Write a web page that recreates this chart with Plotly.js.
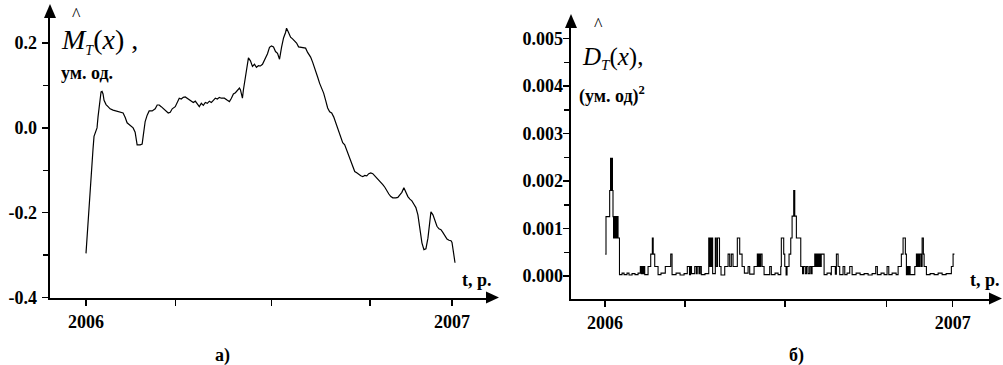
<!DOCTYPE html>
<html>
<head>
<meta charset="utf-8">
<script src="https://cdn.plot.ly/plotly-3.0.1.min.js"></script>
<style>
html,body{margin:0;padding:0;background:#fff;}
#chart{width:1003px;height:365px;}
</style>
</head>
<body>
<div id="chart"></div>
<script>
// ---- Data (days since 2006-01-01) ----
const meanDays = [0,2,4,5.7,7,8,10,11,12,13,14,15,16,17,18,20,22,24,27,30,33,35,37,39,41,43,45,47,49,50,51,54,56,57,59,61,63,66,69,71,73,75,77,79,82,84,86,89,91,93,95,97,99,101,103,105,107,109,111,113,115,117,119,121,123,125,127,129,131,133,135,138,141,143,145,147,149,151,153,154,155,156,157,159,161,162,164,166,168,170,172,174,176,177,179,181,183,185,187,189,191,193,195,197,199,200,202,204,206,208,210,212,214,217,219,221,224,226,229,231,233,235,237,239,241,243,245,247,249,251,253,256,258,261,263,266,268,270,272,274,276,278,280,282,284,286,288,290,292,294,296,298,300,302,304,306,309,311,313,315,317,319,321,323,325,327,329,331,332,334,335,337,339,341,343,344,346,348,350,352,354,356,358,360,362,364,365,366,367,368];
const meanVals = [-0.296,-0.22,-0.14,-0.10,-0.05,-0.02,-0.008,0.0,0.026,0.05,0.075,0.085,0.086,0.08,0.065,0.055,0.05,0.045,0.042,0.04,0.038,0.037,0.035,0.025,0.012,0.008,0.003,0.0,-0.01,-0.03,-0.04,-0.04,-0.038,-0.02,0.015,0.03,0.04,0.04,0.045,0.054,0.054,0.05,0.045,0.04,0.035,0.037,0.045,0.05,0.06,0.07,0.068,0.072,0.073,0.07,0.065,0.062,0.06,0.063,0.055,0.05,0.058,0.053,0.06,0.058,0.063,0.06,0.065,0.07,0.068,0.072,0.07,0.07,0.065,0.062,0.07,0.08,0.083,0.089,0.094,0.09,0.075,0.07,0.09,0.12,0.15,0.165,0.158,0.145,0.15,0.143,0.147,0.146,0.15,0.155,0.165,0.175,0.19,0.193,0.191,0.18,0.176,0.162,0.19,0.212,0.225,0.235,0.225,0.214,0.21,0.205,0.2,0.191,0.19,0.19,0.188,0.178,0.167,0.155,0.136,0.12,0.105,0.095,0.082,0.065,0.047,0.038,0.035,0.026,0.012,0.0,-0.015,-0.035,-0.04,-0.059,-0.072,-0.092,-0.103,-0.106,-0.11,-0.113,-0.115,-0.112,-0.113,-0.108,-0.106,-0.108,-0.113,-0.118,-0.122,-0.128,-0.134,-0.14,-0.15,-0.156,-0.162,-0.165,-0.165,-0.164,-0.158,-0.152,-0.141,-0.152,-0.162,-0.168,-0.172,-0.18,-0.188,-0.205,-0.224,-0.255,-0.271,-0.287,-0.285,-0.26,-0.215,-0.198,-0.205,-0.22,-0.232,-0.238,-0.24,-0.247,-0.255,-0.262,-0.265,-0.266,-0.27,-0.285,-0.3,-0.318];

const dispDays = [0.3,1.05,4.9,5.8,6.3,6.7,7.8,8.4,9.0,9.7,10.3,11.0,12.1,12.8,13.7,15.2,17.9,20.0,23.1,25.2,28.4,31.5,34.7,37.1,38.1,38.9,39.9,40.7,41.7,45.2,48.0,49.7,50.6,52.2,55.7,58.8,63.3,69.0,70.4,74.6,78.8,83.0,86.4,88.7,89.8,90.8,94.2,95.9,96.8,98.7,99.8,101.1,105.0,108.9,109.6,110.5,111.3,112.0,113.0,115.8,116.8,118.1,120.2,121.8,125.7,129.2,130.9,132.6,134.4,138.9,141.4,143.9,146.3,150.2,151.9,156.5,159.9,161.0,161.7,162.8,163.5,164.9,167.0,172.9,174.6,178.5,181.7,184.5,185.1,187.6,188.7,190.1,191.1,193.2,195.0,196.4,198.1,199.2,200.9,205.5,207.4,208.4,210.3,211.6,213.2,214.9,216.3,217.4,220.2,221.0,221.9,222.6,223.7,224.7,225.4,226.3,227.0,230.0,233.1,237.0,237.6,241.8,242.9,244.7,246.4,249.9,251.7,254.1,256.9,259.4,263.6,267.8,272.0,276.2,280.4,284.2,285.9,289.8,293.0,296.1,297.9,301.4,305.6,307.7,311.1,312.9,315.3,316.4,317.4,318.5,319.4,320.3,325.2,326.9,327.9,328.7,329.7,330.4,331.8,332.9,334.2,335.0,337.4,341.3,345.5,349.7,353.9,358.1,363.6,365.4,366.8];
const dispVals = [0.46,1.25,1.8,2.48,1.8,2.48,1.8,1.25,0.8,1.25,0.8,1.25,0.8,1.25,0.8,0.03,0.06,0.03,0.06,0.02,0.05,0.03,0.06,0.2,0.05,0.2,0.05,0.2,0.03,0.2,0.46,0.8,0.46,0.2,0.03,0.06,0.2,0.46,0.03,0.06,0.02,0.05,0.2,0.03,0.2,0.05,0.2,0.05,0.2,0.05,0.2,0.03,0.05,0.8,0.2,0.8,0.2,0.8,0.05,0.8,0.2,0.8,0.2,0.02,0.2,0.46,0.2,0.46,0.2,0.8,0.46,0.2,0.06,0.2,0.04,0.2,0.46,0.2,0.46,0.2,0.46,0.2,0.03,0.2,0.03,0.06,0.03,0.2,0.8,0.46,0.2,0.02,0.2,0.46,0.8,1.26,1.8,1.26,0.8,0.2,0.05,0.2,0.05,0.2,0.05,0.2,0.05,0.2,0.46,0.2,0.46,0.2,0.46,0.2,0.46,0.2,0.46,0.03,0.06,0.03,0.2,0.04,0.46,0.2,0.03,0.2,0.03,0.06,0.2,0.03,0.06,0.03,0.05,0.02,0.05,0.2,0.03,0.06,0.03,0.2,0.03,0.06,0.03,0.2,0.46,0.8,0.46,0.03,0.2,0.03,0.2,0.03,0.2,0.46,0.2,0.46,0.2,0.46,0.2,0.8,0.46,0.2,0.03,0.05,0.03,0.06,0.03,0.05,0.2,0.46,0.46];

const xTickLabels = ['2006','','','','2007'];
const meanXTicks = [2006, 2006.245, 2006.507, 2006.776, 2007];
const dispXTicks = [2006, 2006.230, 2006.518, 2006.810, 2007];
const meanYTicks = [-0.4,-0.2,0.0,0.2];
const meanYText = ['-0.4','-0.2','0.0','0.2'];
const dispYTicks = [0,0.001,0.002,0.003,0.004,0.005];
const dispYText = ['0.000','0.001','0.002','0.003','0.004','0.005'];

// ---- helpers ----
const W = 1003, H = 365;
const px = x => x / W;
const py = y => 1 - y / H;
const toYear = d => 2006 + d / 365;

const FONT = '"Liberation Serif", serif';
const tickFont = {family: FONT, size: 18, color: '#000', weight: 'bold'};

const traces = [
  {x: meanDays.map(toYear), y: meanVals, type: 'scatter', mode: 'lines',
   line: {color: '#000', width: 1.2}, xaxis: 'x', yaxis: 'y', hoverinfo: 'skip'},
  {x: dispDays.map(toYear), y: dispVals.map(v => v / 1000), type: 'scatter', mode: 'lines',
   line: {color: '#000', width: 1.1, shape: 'hv'}, xaxis: 'x2', yaxis: 'y2', hoverinfo: 'skip'}
];

const axBase = {showline: true, linecolor: '#000', linewidth: 2.5, showgrid: false, zeroline: false,
  ticks: 'outside', ticklen: 6, tickwidth: 1.5, tickcolor: '#000', tickfont: tickFont, fixedrange: true,
  tickmode: 'array'};

// pixel geometry of the two panels
const L = {x0: 50, x1: 489, y0: 297.5, y1: 17, pxPerYear: 366, x2006: 86};
const R = {x0: 571, x1: 992, y0: 298.5, y1: 27, pxPerYear: 347.7, x2006: 605};

const layout = {
  width: W, height: H, margin: {l: 0, r: 0, t: 0, b: 0},
  font: {family: FONT, color: '#000'},
  paper_bgcolor: '#fff', plot_bgcolor: 'rgba(0,0,0,0)', showlegend: false,
  xaxis: Object.assign({}, axBase, {domain: [px(L.x0), px(L.x1)], anchor: 'y',
    range: [2006 - (L.x2006 - L.x0) / L.pxPerYear, 2006 + (L.x1 - L.x2006) / L.pxPerYear],
    tickvals: meanXTicks, ticktext: xTickLabels, ticklabelstandoff: 0}),
  yaxis: Object.assign({}, axBase, {domain: [py(L.y0), py(L.y1)], anchor: 'x',
    range: [-0.4, (128 - L.y1) / 424.5],
    tickvals: meanYTicks, ticktext: meanYText, ticklabelstandoff: 1,
    minor: {tickmode: 'array', tickvals: [-0.3,-0.1,0.1], ticks: 'outside', ticklen: 5, tickwidth: 1.5, tickcolor: '#000'}}),
  xaxis2: Object.assign({}, axBase, {domain: [px(R.x0), px(R.x1)], anchor: 'y2',
    range: [2006 - (R.x2006 - R.x0) / R.pxPerYear, 2006 + (R.x1 - R.x2006) / R.pxPerYear],
    tickvals: dispXTicks, ticktext: xTickLabels, ticklabelstandoff: 0}),
  yaxis2: Object.assign({}, axBase, {domain: [py(R.y0), py(R.y1)], anchor: 'x2',
    range: [(276 - R.y0) / 47500, (276 - R.y1) / 47500],
    tickvals: dispYTicks, ticktext: dispYText, ticklabelstandoff: -4,
    minor: {tickmode: 'array', tickvals: [0.0005,0.0015,0.0025,0.0035,0.0045], ticks: 'outside', ticklen: 5, tickwidth: 1.5, tickcolor: '#000'}}),
  shapes: [
    {type: 'path', xref: 'paper', yref: 'paper', fillcolor: '#000', line: {width: 0},
     path: `M${px(50)},${py(4)} L${px(44)},${py(18)} L${px(56)},${py(18)} Z`},
    {type: 'path', xref: 'paper', yref: 'paper', fillcolor: '#000', line: {width: 0},
     path: `M${px(499)},${py(297.5)} L${px(486)},${py(291.5)} L${px(486)},${py(303.5)} Z`},
    {type: 'path', xref: 'paper', yref: 'paper', fillcolor: '#000', line: {width: 0},
     path: `M${px(571)},${py(14)} L${px(565)},${py(28)} L${px(577)},${py(28)} Z`},
    {type: 'path', xref: 'paper', yref: 'paper', fillcolor: '#000', line: {width: 0},
     path: `M${px(1002)},${py(298.5)} L${px(989)},${py(292.5)} L${px(989)},${py(304.5)} Z`}
  ],
  annotations: [
    {xref: 'paper', yref: 'paper', x: px(59), y: py(41), xanchor: 'left', yanchor: 'middle', showarrow: false,
     text: '<i>M</i><sub><span style="font-size:14px"><i>T</i></span></sub>(<i>x</i>) ,',
     font: {family: FONT, size: 28, color: '#000'}},
    {xref: 'paper', yref: 'paper', x: px(76), y: py(15), xanchor: 'center', yanchor: 'middle', showarrow: false,
     text: '^', font: {family: FONT, size: 18, color: '#000'}},
    {xref: 'paper', yref: 'paper', x: px(59), y: py(73), xanchor: 'left', yanchor: 'middle', showarrow: false,
     text: '<b>ум. од.</b>', font: {family: FONT, size: 18, color: '#000'}},
    {xref: 'paper', yref: 'paper', x: px(580), y: py(58), xanchor: 'left', yanchor: 'middle', showarrow: false,
     text: '<i>D</i><sub><span style="font-size:15px"><i>T</i></span></sub>(<i>x</i>),',
     font: {family: FONT, size: 25, color: '#000'}},
    {xref: 'paper', yref: 'paper', x: px(598), y: py(25), xanchor: 'center', yanchor: 'middle', showarrow: false,
     text: '^', font: {family: FONT, size: 18, color: '#000'}},
    {xref: 'paper', yref: 'paper', x: px(577), y: py(95), xanchor: 'left', yanchor: 'middle', showarrow: false,
     text: '<b>(ум. од)<sup>2</sup></b>', font: {family: FONT, size: 18, color: '#000'}},
    {xref: 'paper', yref: 'paper', x: px(494), y: py(280), xanchor: 'right', yanchor: 'middle', showarrow: false,
     text: '<b>t, р.</b>', font: {family: FONT, size: 18, color: '#000'}},
    {xref: 'paper', yref: 'paper', x: px(1002), y: py(280), xanchor: 'right', yanchor: 'middle', showarrow: false,
     text: '<b>t, р.</b>', font: {family: FONT, size: 18, color: '#000'}},
    {xref: 'paper', yref: 'paper', x: px(222), y: py(355), xanchor: 'center', yanchor: 'middle', showarrow: false,
     text: '<b>а)</b>', font: {family: FONT, size: 18, color: '#000'}},
    {xref: 'paper', yref: 'paper', x: px(796), y: py(355), xanchor: 'center', yanchor: 'middle', showarrow: false,
     text: '<b>б)</b>', font: {family: FONT, size: 18, color: '#000'}}
  ]
};

Plotly.newPlot('chart', traces, layout, {displayModeBar: false, staticPlot: true});
</script>
</body>
</html>
